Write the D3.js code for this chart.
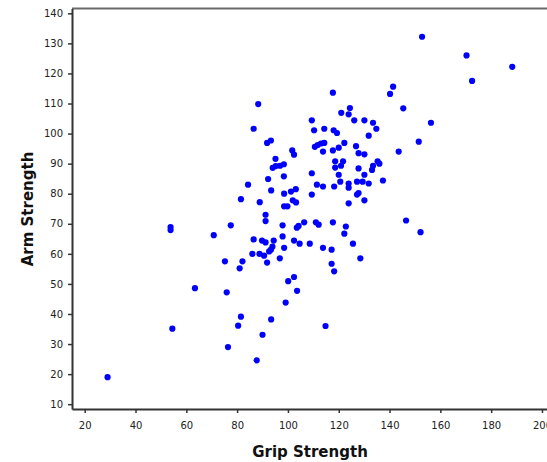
<!DOCTYPE html>
<html>
<head>
<meta charset="utf-8">
<script src="https://cdn.jsdelivr.net/npm/d3@7"></script>
<style>
  html, body { margin: 0; padding: 0; background: #ffffff; }
  svg { display: block; }
</style>
</head>
<body>
<svg id="chart" width="547" height="462"></svg>
<script>
const xLabel = "Grip Strength";
const yLabel = "Arm Strength";
const xTicks = [20, 40, 60, 80, 100, 120, 140, 160, 180, 200];
const yTicks = [10, 20, 30, 40, 50, 60, 70, 80, 90, 100, 110, 120, 130, 140];

const grip = [
  88.3, 86.5, 91.8, 93.3, 101.7, 102.4, 95.1, 96.9, 98.4, 94.0, 95.2, 98.4, 92.2, 84.3,
  93.4, 101.2, 103.1, 98.5, 81.5, 88.9, 101.9, 103.2, 98.5, 99.8, 91.2, 91.2, 77.5, 97.9,
  103.5, 104.2, 106.4,
  141.4, 140.2, 117.7, 145.4, 124.4, 121.0, 123.9, 156.3, 109.4, 126.1, 130.1, 133.5, 134.8,
  110.3, 114.3, 118.0, 119.3, 131.8, 151.5, 122.2, 114.3, 113.0, 111.7, 110.6, 126.8, 117.7,
  120.0, 113.8, 127.8, 130.1, 143.6, 118.6, 121.7, 120.9, 118.6, 135.3, 136.0, 133.5, 133.1,
  127.8, 109.4, 120.0, 130.1, 137.4, 120.6, 127.2, 129.4, 131.8, 123.9, 123.9, 111.4, 113.8,
  118.2, 109.4, 127.8, 127.2, 130.1, 123.9, 111.0, 112.1, 117.7, 122.8, 122.2, 146.5, 152.2,
  152.8, 170.3, 188.3, 172.5,
  53.8, 53.8, 63.4, 54.5, 29.0,
  70.8, 86.5, 89.8, 91.2, 94.4, 97.9, 102.4, 104.6, 108.6, 93.9, 93.3, 92.6, 86.0, 88.8,
  90.6, 98.5, 96.8, 75.2, 82.1, 91.8, 81.0, 100.1, 102.4, 103.6, 75.9, 99.1, 81.5, 80.4,
  93.4, 90.0, 76.4, 87.7,
  125.6, 113.8, 117.2, 128.5, 117.2, 118.2, 114.8
];
const arm = [
  109.8, 101.6, 96.9, 97.7, 94.4, 93.0, 91.6, 89.3, 89.8, 88.6, 89.2, 85.8, 84.9, 83.0,
  81.1, 80.7, 81.5, 80.0, 78.2, 77.2, 77.8, 77.1, 75.8, 75.8, 73.0, 70.9, 69.5, 69.5,
  68.7, 69.3, 70.5,
  115.6, 113.2, 113.6, 108.4, 108.5, 106.9, 106.4, 103.6, 104.4, 104.4, 104.4, 103.6, 101.6,
  101.1, 101.6, 101.1, 100.2, 99.3, 97.3, 96.9, 96.9, 96.7, 96.2, 95.6, 95.8, 94.4,
  95.3, 94.0, 93.5, 93.1, 94.0, 90.8, 90.8, 89.3, 88.7, 90.8, 90.0, 89.3, 87.9,
  88.4, 86.8, 86.3, 86.3, 84.4, 84.0, 84.0, 84.0, 83.4, 83.4, 82.0, 83.0, 82.4,
  82.4, 79.7, 80.2, 79.7, 77.8, 76.8, 70.5, 69.7, 70.5, 69.1, 66.7, 71.1, 67.2,
  132.2, 126.0, 122.2, 117.5,
  68.9, 67.9, 48.6, 35.1, 19.0,
  66.2, 64.8, 64.4, 63.8, 64.4, 65.8, 64.4, 63.4, 63.4, 62.4, 61.4, 60.8, 60.0, 60.0,
  59.4, 62.0, 58.5, 57.5, 57.5, 57.1, 55.2, 50.9, 52.3, 47.7, 47.2, 43.8, 39.1, 36.1,
  38.2, 33.1, 29.0, 24.6,
  63.4, 62.0, 61.4, 58.5, 56.7, 54.2, 36.0
];

const points = grip.map((g, i) => ({ g: g, a: arm[i] }));

const svg = d3.select("#chart");
const mLeft = 72, mTop = 8.5, mBottom = 409, mRight = 560;

const x = d3.scaleLinear().domain([15, 207.1]).range([mLeft, mRight]);
const y = d3.scaleLinear().domain([8.4, 141.6]).range([mBottom, mTop]);

// top frame line
svg.append("line")
  .attr("x1", mLeft).attr("x2", 547)
  .attr("y1", mTop).attr("y2", mTop)
  .attr("stroke", "#6a6a6a").attr("stroke-width", 2);

const font = "'DejaVu Sans', Verdana, sans-serif";

const xAxis = svg.append("g")
  .attr("transform", `translate(0,${mBottom})`)
  .call(d3.axisBottom(x).tickValues(xTicks).tickSize(4).tickPadding(9).tickSizeOuter(0));
const yAxis = svg.append("g")
  .attr("transform", `translate(${mLeft},0)`)
  .call(d3.axisLeft(y).tickValues(yTicks).tickSize(4).tickPadding(5).tickSizeOuter(0));

[xAxis, yAxis].forEach(ax => {
  ax.select(".domain").attr("stroke", "#333").attr("stroke-width", 2);
  ax.selectAll(".tick line").attr("stroke", "#333").attr("stroke-width", 1.5);
  ax.selectAll(".tick text").attr("fill", "#222").style("font-family", font).style("font-size", "10px");
});

svg.append("g")
  .selectAll("circle")
  .data(points)
  .join("circle")
  .attr("cx", d => x(d.g))
  .attr("cy", d => y(d.a))
  .attr("r", 3.1)
  .attr("fill", "#0000ff");

svg.append("text")
  .attr("x", 310).attr("y", 457)
  .attr("text-anchor", "middle")
  .style("font-family", font).style("font-weight", "bold").style("font-size", "15px")
  .attr("fill", "#111")
  .text(xLabel);

svg.append("text")
  .attr("transform", "translate(33,209) rotate(-90)")
  .attr("text-anchor", "middle")
  .style("font-family", font).style("font-weight", "bold").style("font-size", "15px")
  .attr("fill", "#111")
  .text(yLabel);
</script>
</body>
</html>
